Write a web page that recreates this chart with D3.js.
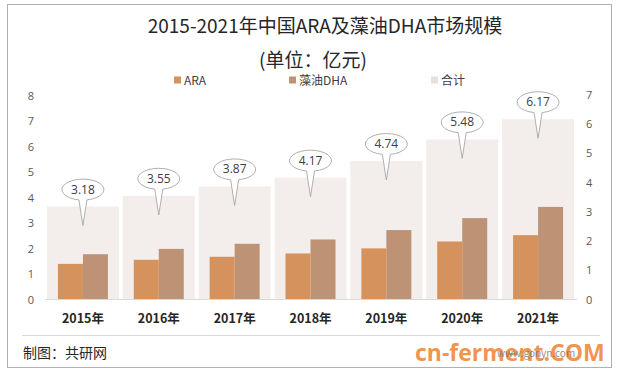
<!DOCTYPE html>
<html>
<head>
<meta charset="utf-8">
<script src="https://cdn.jsdelivr.net/npm/d3@7"></script>
<style>
  body { margin: 0; background: #fff; }
  text { font-family: "Noto Sans CJK SC", "Noto Sans", sans-serif; }
</style>
</head>
<body>
<script>
var years = ["2015年", "2016年", "2017年", "2018年", "2019年", "2020年", "2021年"];
var araValues = [1.40, 1.56, 1.68, 1.81, 2.01, 2.28, 2.53];
var dhaValues = [1.78, 1.99, 2.19, 2.36, 2.73, 3.20, 3.64];
var totalValues = [3.18, 3.55, 3.87, 4.17, 4.74, 5.48, 6.17];
var leftTicks = [0, 1, 2, 3, 4, 5, 6, 7, 8];
var rightTicks = [0, 1, 2, 3, 4, 5, 6, 7];

function init(){
    var w = 620;
    var h = 376;
    var baseY = 299.5;

    var colARA = "#d6925c";
    var colDHA = "#bd9275";
    var colTotal = "#f3eeeb";

    var svg = d3.select("body")
                .append("svg")
                .attr("width", w)
                .attr("height", h);

    // outer frame
    svg.append("rect")
        .attr("x", 7.5).attr("y", 4.5)
        .attr("width", 604).attr("height", 363)
        .attr("fill", "#fff")
        .attr("stroke", "#b0b0b0");

    var xScale = d3.scaleBand()
                .domain(years)
                .range([45, 576])
                .paddingInner(0.05)
                .paddingOuter(0.025);

    var yLeft = d3.scaleLinear().domain([0, 8]).range([baseY, 96]);
    var yRight = d3.scaleLinear().domain([0, 7]).range([baseY, 95]);

    var inner = d3.scaleBand()
                .domain(["ARA", "DHA"])
                .range([-25, 25]);

    // total bars (secondary axis)
    svg.selectAll("rect.total")
        .data(totalValues)
        .enter()
        .append("rect")
        .attr("class", "total")
        .attr("x", function(d, i){ return xScale(years[i]); })
        .attr("y", function(d){ return yRight(d); })
        .attr("width", xScale.bandwidth())
        .attr("height", function(d){ return baseY - yRight(d); })
        .attr("fill", colTotal);

    var series = [
        {name: "ARA", values: araValues, color: colARA},
        {name: "DHA", values: dhaValues, color: colDHA}
    ];

    series.forEach(function(s){
        svg.selectAll("rect.s" + s.name)
            .data(s.values)
            .enter()
            .append("rect")
            .attr("class", "s" + s.name)
            .attr("x", function(d, i){
                return xScale(years[i]) + xScale.bandwidth() / 2 + inner(s.name);
            })
            .attr("y", function(d){ return yLeft(d); })
            .attr("width", inner.bandwidth())
            .attr("height", function(d){ return baseY - yLeft(d); })
            .attr("fill", s.color);
    });

    // baseline
    svg.append("line")
        .attr("x1", 45).attr("x2", 577)
        .attr("y1", baseY).attr("y2", baseY)
        .attr("stroke", "#d9d9d9");

    // axes
    var leftAxis = d3.axisLeft(yLeft).tickValues(leftTicks).tickFormat(d3.format("d")).tickSize(0).tickPadding(0);
    var rightAxis = d3.axisRight(yRight).tickValues(rightTicks).tickFormat(d3.format("d")).tickSize(0).tickPadding(0);

    var gl = svg.append("g")
        .attr("transform", "translate(34,0)")
        .call(leftAxis);
    var gr = svg.append("g")
        .attr("transform", "translate(586,0)")
        .call(rightAxis);
    [gl, gr].forEach(function(g){
        g.select(".domain").remove();
        g.selectAll("text")
            .attr("fill", "#595959")
            .style("font-size", "11px")
            .style("font-family", "'Open Sans', sans-serif");
    });

    var xAxis = d3.axisBottom(xScale).tickSize(0).tickPadding(0);
    var gx = svg.append("g")
        .attr("transform", "translate(0,314)")
        .call(xAxis);
    gx.select(".domain").remove();
    gx.selectAll("text")
        .attr("fill", "#262626")
        .style("font-size", "12.5px")
        .style("font-weight", "bold");

    // callouts
    var callouts = svg.selectAll("g.callout")
        .data(totalValues)
        .enter()
        .append("g")
        .attr("class", "callout")
        .attr("transform", function(d, i){
            return "translate(" + (xScale(years[i]) + xScale.bandwidth() / 2) + "," + yRight(d) + ")";
        });

    callouts.append("path")
        .attr("d", function(){
            var rx = 21, ry = 10.5, cy = -17;
            var a = 4;
            var yb = cy + ry * Math.sqrt(1 - (a * a) / (rx * rx));
            return "M" + (-a) + "," + yb +
                   " A" + rx + "," + ry + " 0 1 1 " + a + "," + yb +
                   " L0,19 Z";
        })
        .attr("fill", "#fff")
        .attr("stroke", "#a6a6a6")
        .attr("stroke-width", 0.9);

    callouts.append("text")
        .attr("x", 0)
        .attr("y", -13)
        .attr("text-anchor", "middle")
        .attr("fill", "#404040")
        .style("font-size", "12px")
        .style("font-family", "'Open Sans', sans-serif")
        .text(function(d){ return d.toFixed(2); });

    // title
    svg.append("text")
        .attr("x", 325).attr("y", 33)
        .attr("text-anchor", "middle")
        .attr("fill", "#262626")
        .style("font-size", "19px")
        .text("2015-2021年中国ARA及藻油DHA市场规模");

    svg.append("text")
        .attr("x", 313).attr("y", 67)
        .attr("text-anchor", "middle")
        .attr("fill", "#262626")
        .style("font-size", "19px")
        .text("(单位：亿元)");

    // legend
    var legend = [
        {label: "ARA", color: colARA, x: 174},
        {label: "藻油DHA", color: colDHA, x: 289},
        {label: "合计", color: "#e6e0dc", x: 431}
    ];
    var lg = svg.selectAll("g.legend")
        .data(legend)
        .enter()
        .append("g")
        .attr("class", "legend")
        .attr("transform", function(d){ return "translate(" + d.x + ",80)"; });
    lg.append("rect")
        .attr("x", 0).attr("y", -3.5)
        .attr("width", 7).attr("height", 7)
        .attr("fill", function(d){ return d.color; });
    lg.append("text")
        .attr("x", 10).attr("y", 4.5)
        .attr("fill", "#404040")
        .style("font-size", "12px")
        .text(function(d){ return d.label; });

    // footer
    svg.append("line")
        .attr("x1", 22).attr("x2", 600)
        .attr("y1", 335.5).attr("y2", 335.5)
        .attr("stroke", "#d9d9d9");

    svg.append("text")
        .attr("x", 23).attr("y", 358)
        .attr("fill", "#262626")
        .style("font-size", "14px")
        .text("制图：共研网");

    svg.append("text")
        .attr("x", 415).attr("y", 361)
        .attr("fill", "#ef8a3e")
        .attr("fill-opacity", 0.92)
        .style("font-size", "23px")
        .style("font-weight", "bold")
        .style("font-family", "'Open Sans', sans-serif")
        .text("cn-ferment.COM");

    svg.append("text")
        .attr("x", 497).attr("y", 357)
        .attr("fill", "#6f6f6f")
        .attr("fill-opacity", 0.8)
        .style("font-size", "10px")
        .text("www.gonyn.com");
}
window.onload = init;
</script>
</body>
</html>
